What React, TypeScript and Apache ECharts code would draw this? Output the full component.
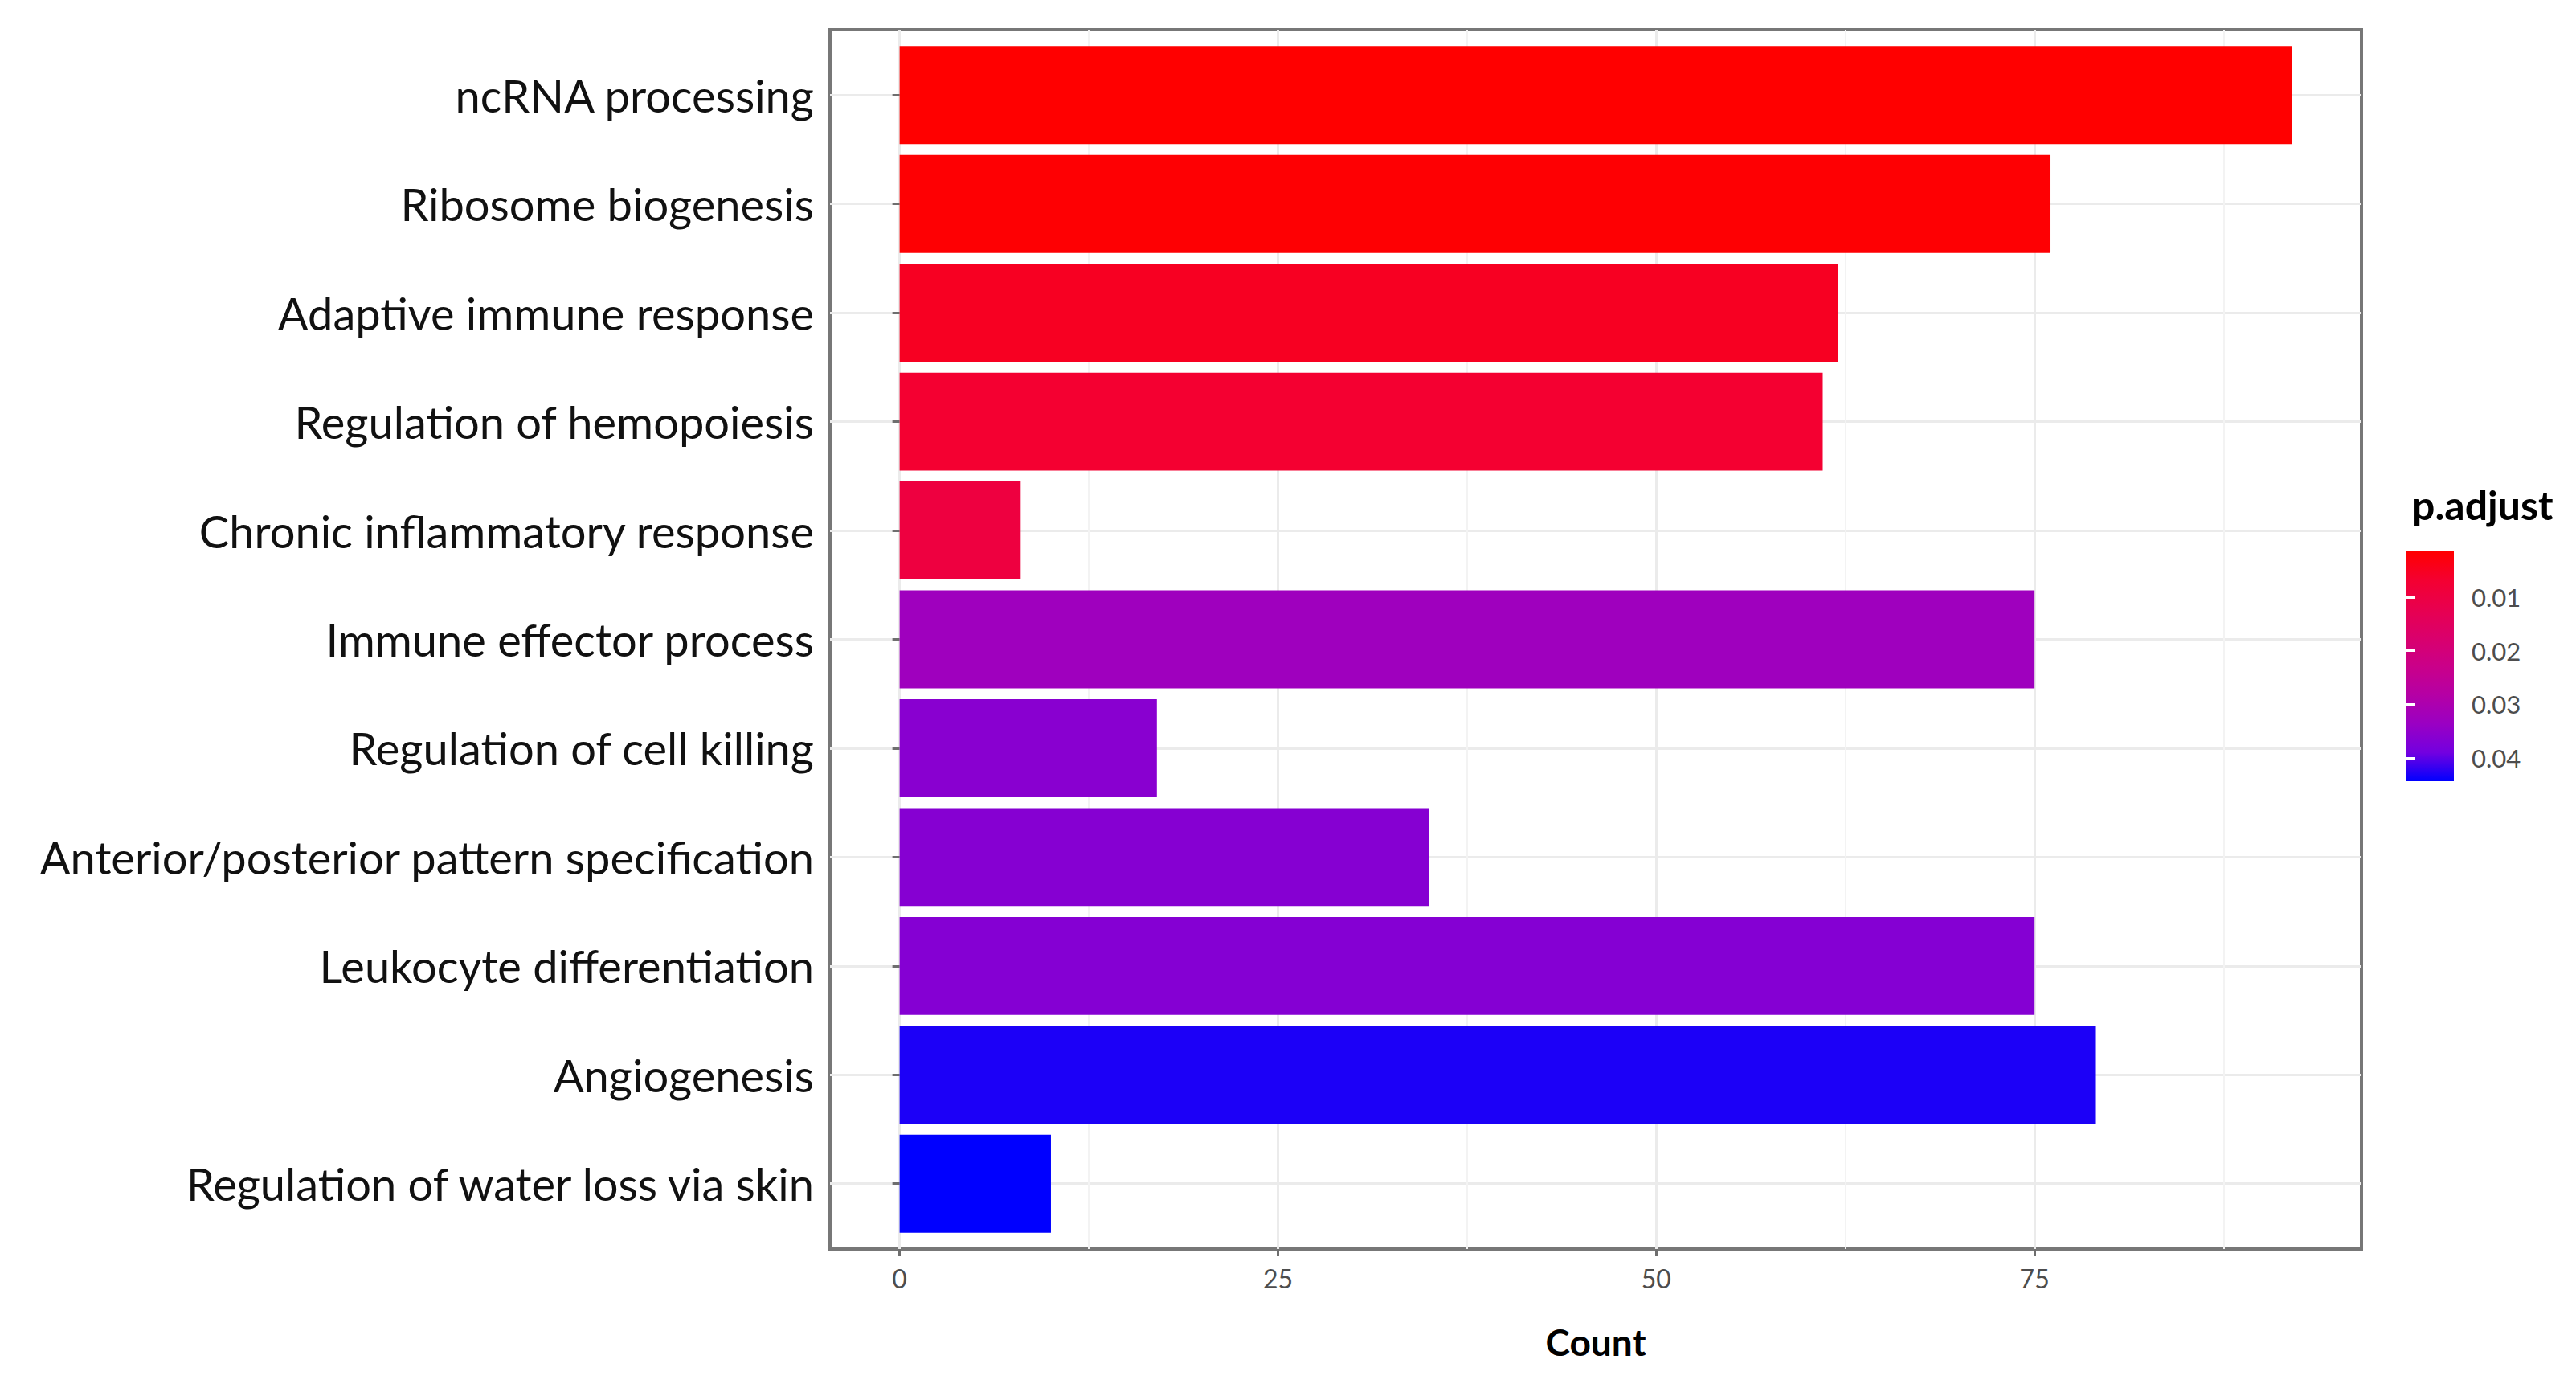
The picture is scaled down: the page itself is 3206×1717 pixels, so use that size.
import React, { useEffect, useRef } from 'react';
import * as echarts from 'echarts';

const categories = [
  'ncRNA processing',
  'Ribosome biogenesis',
  'Adaptive immune response',
  'Regulation of hemopoiesis',
  'Chronic inflammatory response',
  'Immune effector process',
  'Regulation of cell killing',
  'Anterior/posterior pattern specification',
  'Leukocyte differentiation',
  'Angiogenesis',
  'Regulation of water loss via skin',
];
const counts = [92, 76, 62, 61, 8, 75, 17, 35, 75, 79, 10];
const pAdjust = [0.0015, 0.0018, 0.0052, 0.0068, 0.0096, 0.0327, 0.036, 0.0364, 0.0365, 0.043, 0.0443];
const xTicks = [0, 25, 50, 75];
const xMinorTicks = [12.5, 37.5, 62.5, 87.5];
const legendTicks = [0.01, 0.02, 0.03, 0.04];
const gradientColors = ['#FF0000', '#F40031', '#E8004F', '#DA006C', '#CA0089', '#B500A5', '#9A00C3', '#7300E0', '#0000FF'];

const FONT = 'Lato, "Open Sans", sans-serif';
const W = 3206;
const H = 1717;

export default function App() {
  const ref = useRef<HTMLDivElement>(null);
  useEffect(() => {
    const chart = echarts.init(ref.current as HTMLDivElement, null, { renderer: 'svg', width: W, height: H });
    const maxCount = Math.max(...counts);
    const pad = maxCount * 0.05;
    const xMin = -pad;
    const xMax = maxCount + pad;
    const pMin = Math.min(...pAdjust);
    const pMax = Math.max(...pAdjust);
    const panel = { left: 1033, top: 37, right: W - 2939, bottom: H - 1554 };
    const panelH = H - panel.top - panel.bottom;
    const band = panelH / (categories.length - 1 + 1.2);
    const inset = band * 0.1;
    const centers = categories.map((_, i) => i + 1);
    const stops = gradientColors.map((c, i) => ({ offset: i / (gradientColors.length - 1), color: c }));

    chart.setOption({
      animation: false,
      backgroundColor: '#ffffff',
      title: {
        text: 'p.adjust',
        left: 3002,
        top: 603,
        padding: 0,
        textStyle: { fontSize: 50, fontWeight: 'bold', color: '#000', fontFamily: FONT },
      },
      grid: [
        {
          left: panel.left,
          top: panel.top,
          right: panel.right,
          bottom: panel.bottom,
          show: true,
          borderColor: '#777777',
          borderWidth: 4,
          backgroundColor: 'transparent',
          containLabel: false,
        },
        {
          left: panel.left,
          top: panel.top + inset,
          right: panel.right,
          bottom: panel.bottom + inset,
          containLabel: false,
        },
        { left: 2994, top: 686, width: 60, height: 286, containLabel: false },
      ],
      xAxis: [
        {
          gridIndex: 0,
          type: 'value',
          min: xMin,
          max: xMax,
          position: 'bottom',
          axisLine: { show: false },
          axisTick: { show: true, customValues: xTicks, length: 9, lineStyle: { color: '#6e6e6e', width: 3 } },
          axisLabel: { customValues: xTicks, margin: 20, fontSize: 32, color: '#4d4d4d', fontFamily: FONT },
          splitLine: { show: true, lineStyle: { color: '#ebebeb', width: 3 } },
          name: 'Count',
          nameLocation: 'middle',
          nameGap: 92,
          nameTextStyle: { fontSize: 46, fontWeight: 'bold', color: '#000', fontFamily: FONT },
        },
        {
          gridIndex: 0,
          type: 'value',
          min: xMin,
          max: xMax,
          position: 'top',
          axisLine: { show: false },
          axisTick: { show: false, customValues: xMinorTicks },
          axisLabel: { show: false, customValues: xMinorTicks },
          splitLine: { show: true, lineStyle: { color: '#f3f3f3', width: 2 } },
        },
        { gridIndex: 1, type: 'value', min: xMin, max: xMax, show: false, splitLine: { show: false } },
        { gridIndex: 2, type: 'value', min: 0, max: 1, show: false, splitLine: { show: false } },
      ],
      yAxis: [
        {
          gridIndex: 0,
          type: 'value',
          min: 0.4,
          max: categories.length + 0.6,
          axisLine: { show: false },
          axisTick: { show: false, customValues: centers },
          axisLabel: { show: false, customValues: centers },
          splitLine: { show: true, lineStyle: { color: '#ebebeb', width: 3 } },
        },
        {
          gridIndex: 1,
          type: 'category',
          data: categories,
          inverse: true,
          axisLine: { show: false },
          axisTick: { show: true, alignWithLabel: true, length: 9, lineStyle: { color: '#6e6e6e', width: 3 } },
          axisLabel: { margin: 20, fontSize: 56, color: '#111', fontFamily: FONT },
          splitLine: { show: false },
        },
        {
          gridIndex: 2,
          type: 'value',
          min: pMin,
          max: pMax,
          inverse: true,
          position: 'right',
          z: 10,
          axisLine: { show: false },
          axisTick: { show: true, inside: true, length: 12, customValues: legendTicks, lineStyle: { color: '#ffffff', width: 3 } },
          axisLabel: {
            customValues: legendTicks,
            margin: 22,
            fontSize: 31,
            color: '#4d4d4d',
            fontFamily: FONT,
            formatter: (v: number) => v.toFixed(2),
          },
          splitLine: { show: false },
        },
        {
          gridIndex: 2,
          type: 'value',
          min: pMin,
          max: pMax,
          inverse: true,
          position: 'left',
          z: 10,
          axisLine: { show: false },
          axisTick: { show: true, inside: true, length: 12, customValues: legendTicks, lineStyle: { color: '#ffffff', width: 3 } },
          axisLabel: { show: false, customValues: legendTicks },
          splitLine: { show: false },
        },
      ],
      visualMap: [
        {
          type: 'continuous',
          show: false,
          seriesIndex: 0,
          dimension: 2,
          min: pMin,
          max: pMax,
          inRange: { color: gradientColors },
        },
      ],
      series: [
        {
          type: 'bar',
          xAxisIndex: 2,
          yAxisIndex: 1,
          barCategoryGap: '10%',
          encode: { x: 0, y: 1 },
          data: counts.map((v, i) => [v, i, pAdjust[i]]),
          z: 2,
        },
        {
          type: 'custom',
          xAxisIndex: 3,
          yAxisIndex: 2,
          z: 2,
          data: [[0, pMin, pMax]],
          renderItem: (params: any, api: any) => {
            const p0 = api.coord([0, api.value(1)]);
            const p1 = api.coord([1, api.value(2)]);
            return {
              type: 'rect',
              shape: { x: p0[0], y: p0[1], width: p1[0] - p0[0], height: p1[1] - p0[1] },
              style: { fill: new echarts.graphic.LinearGradient(0, 0, 0, 1, stops) },
            };
          },
        },
      ],
    });
    return () => chart.dispose();
  }, []);
  return (
    <div
      ref={ref}
      style={{ position: 'fixed', left: 0, top: 0, width: W, height: H, background: '#fff' }}
    />
  );
}
